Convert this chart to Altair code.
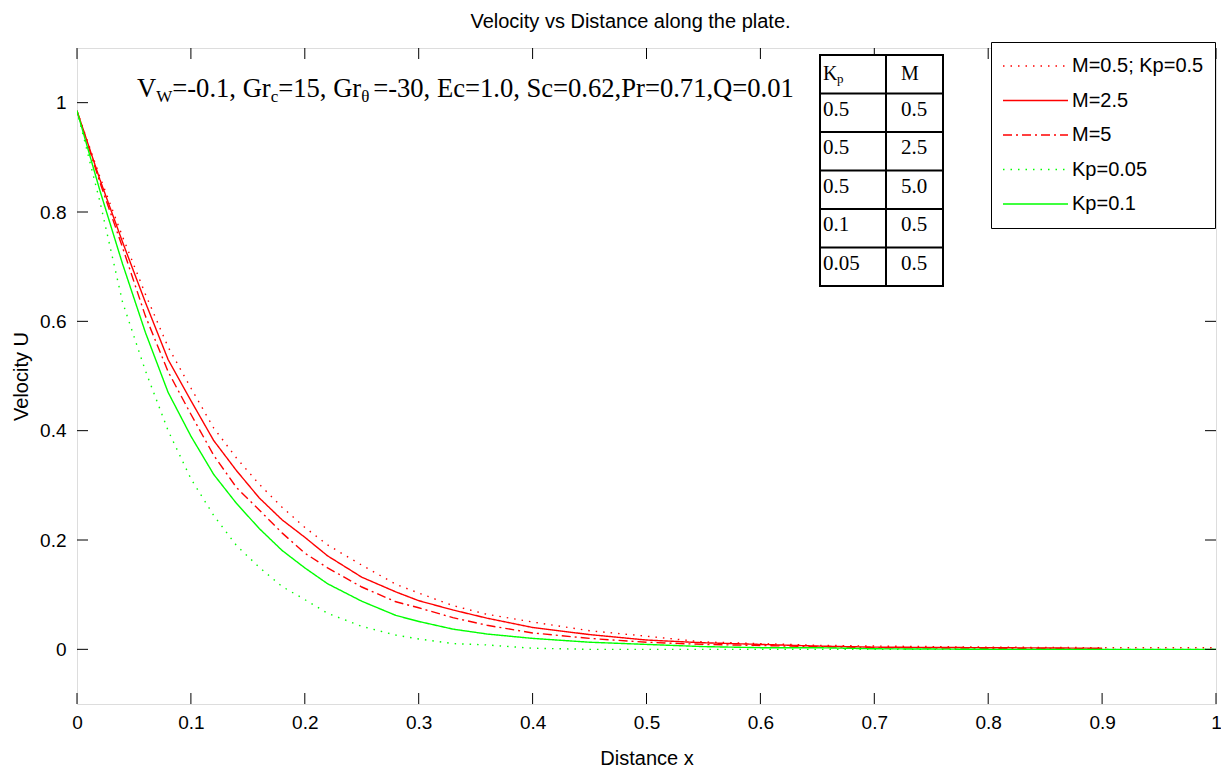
import altair as alt
import pandas as pd

# ---------------- data ----------------
x_vals = [0.00, 0.02, 0.04, 0.06, 0.08, 0.10, 0.12, 0.14, 0.16, 0.18, 0.20, 0.22, 0.25,
          0.28, 0.30, 0.33, 0.36, 0.40, 0.45, 0.50, 0.55, 0.60, 0.65, 0.70, 0.80, 0.90, 1.00]

u_m05 = [0.985, 0.865, 0.755, 0.650, 0.553, 0.478, 0.405, 0.350, 0.302, 0.260, 0.223, 0.191, 0.154,
         0.119, 0.103, 0.080, 0.064, 0.050, 0.034, 0.024, 0.0135, 0.0105, 0.0074, 0.006, 0.004, 0.003, 0.003]
u_m25 = [0.985, 0.860, 0.745, 0.635, 0.530, 0.455, 0.382, 0.327, 0.277, 0.237, 0.205, 0.171, 0.132,
         0.105, 0.089, 0.072, 0.057, 0.040, 0.027, 0.017, 0.012, 0.009, 0.006, 0.004, 0.003, 0.002, None]
u_m5 = [0.985, 0.855, 0.735, 0.610, 0.508, 0.430, 0.355, 0.296, 0.255, 0.213, 0.176, 0.149, 0.114,
        0.087, 0.076, 0.058, 0.044, 0.030, 0.020, 0.013, 0.009, 0.007, 0.005, 0.003, 0.002, 0.001, None]
u_kp005 = [0.985, 0.820, 0.635, 0.510, 0.400, 0.312, 0.245, 0.190, 0.150, 0.115, 0.091, 0.066, 0.042,
           0.026, 0.019, 0.0105, 0.008, 0.002, 0.0, 0.0, 0.0, 0.0, 0.0, 0.0, 0.0, 0.0, 0.0]
u_kp01 = [0.985, 0.840, 0.705, 0.580, 0.470, 0.390, 0.320, 0.267, 0.221, 0.181, 0.149, 0.120, 0.088,
          0.062, 0.051, 0.037, 0.028, 0.020, 0.013, 0.009, 0.005, 0.003, 0.003, 0.001, 0.0, 0.0, 0.0]

series_names = ["M=0.5; Kp=0.5", "M=2.5", "M=5", "Kp=0.05", "Kp=0.1"]
series_values = [u_m05, u_m25, u_m5, u_kp005, u_kp01]
series_colors = ["#ff0000", "#ff0000", "#ff0000", "#00ff00", "#00ff00"]
series_dashes = [[1.5, 6], [1, 0], [9, 4, 2, 4], [1.5, 6], [1, 0]]

x_ticks = [0, 0.1, 0.2, 0.3, 0.4, 0.5, 0.6, 0.7, 0.8, 0.9, 1]
y_ticks = [0, 0.2, 0.4, 0.6, 0.8, 1]

table_header = ["K", "M"]
table_kp = ["0.5", "0.5", "0.5", "0.1", "0.05"]
table_m = ["0.5", "2.5", "5.0", "0.5", "0.5"]

title_text = "Velocity vs Distance along the plate."
x_title = "Distance x"
y_title = "Velocity U"

# annotation pieces: (text, is_subscript)
annot_pieces = [("V", False), ("W", True), ("=-0.1, Gr", False), ("c", True),
                ("=15, Gr", False), ("\u03b8", True),
                (" =-30, Ec=1.0, Sc=0.62,Pr=0.71,Q=0.01", False)]

# ---------------- layout ----------------
W, H = 1139, 656
SANS = "Liberation Sans, Arial, sans-serif"
SERIF = "Liberation Serif, Times New Roman, serif"

rows = []
for name, vals in zip(series_names, series_values):
    for xv, uv in zip(x_vals, vals):
        if uv is not None:
            rows.append({"series": name, "x": xv, "u": uv})
df = pd.DataFrame(rows)

xscale = alt.Scale(domain=[0, 1], nice=False)
yscale = alt.Scale(domain=[-0.1, 1.1], nice=False, zero=False)

x_axis = alt.Axis(values=x_ticks, format="~g", title=x_title, ticks=False,
                  domain=False, grid=False, labelFont=SANS, labelFontSize=19,
                  labelColor="#000", labelPadding=9, titleFont=SANS,
                  titleFontSize=20, titleFontWeight="normal", titleColor="#000",
                  titlePadding=16, labelFlush=False)
y_axis = alt.Axis(values=y_ticks, format="~g", title=y_title, ticks=False,
                  domain=False, grid=False, labelFont=SANS, labelFontSize=19,
                  labelColor="#000", labelPadding=11, titleFont=SANS,
                  titleFontSize=20, titleFontWeight="normal", titleColor="#000",
                  titlePadding=8)

lines = alt.Chart(df).mark_line(strokeWidth=1.4, clip=True).encode(
    x=alt.X("x:Q", scale=xscale, axis=x_axis),
    y=alt.Y("u:Q", scale=yscale, axis=y_axis),
    color=alt.Color("series:N", scale=alt.Scale(domain=series_names, range=series_colors),
                    legend=alt.Legend(title=None, orient="none", legendX=914, legendY=-6,
                                      fillColor="white", strokeColor="#000",
                                      padding=11, symbolType="stroke", symbolSize=4225,
                                      symbolStrokeWidth=1.5, labelFont=SANS,
                                      labelFontSize=20, labelColor="#000",
                                      clipHeight=26, rowPadding=8.5, labelOffset=3,
                                      labelLimit=300)),
    strokeDash=alt.StrokeDash("series:N",
                              scale=alt.Scale(domain=series_names, range=series_dashes),
                              legend=alt.Legend(title=None, orient="none", legendX=914,
                                                legendY=-6)),
    order=alt.Order("x:Q"),
)

tick_len = 11
xt = pd.DataFrame({"x": x_ticks})
yt = pd.DataFrame({"u": y_ticks})
tick_layers = [
    alt.Chart(xt).mark_rule(color="#000", strokeWidth=1).encode(
        x=alt.X("x:Q", scale=xscale, axis=x_axis), y=alt.value(H), y2=alt.value(H - tick_len)),
    alt.Chart(xt).mark_rule(color="#000", strokeWidth=1).encode(
        x=alt.X("x:Q", scale=xscale, axis=x_axis), y=alt.value(0), y2=alt.value(tick_len)),
    alt.Chart(yt).mark_rule(color="#000", strokeWidth=1).encode(
        y=alt.Y("u:Q", scale=yscale, axis=y_axis), x=alt.value(0), x2=alt.value(tick_len)),
    alt.Chart(yt).mark_rule(color="#000", strokeWidth=1).encode(
        y=alt.Y("u:Q", scale=yscale, axis=y_axis), x=alt.value(W), x2=alt.value(W - tick_len)),
]

# ---------- table ----------
one = pd.DataFrame({"a": [0]})
t_left, t_mid, t_right = 743, 809, 866
t_top, row_h = 7, 38.5
n_rows = 1 + len(table_kp)
t_bottom = t_top + n_rows * row_h
table_layers = [
    alt.Chart(one).mark_rect(fill="white", stroke="#000", strokeWidth=2).encode(
        x=alt.value(t_left), x2=alt.value(t_right), y=alt.value(t_top), y2=alt.value(t_bottom)),
    alt.Chart(one).mark_rule(color="#000", strokeWidth=2).encode(
        x=alt.value(t_mid), y=alt.value(t_top), y2=alt.value(t_bottom)),
]
for i in range(1, n_rows):
    yy = t_top + i * row_h
    table_layers.append(alt.Chart(one).mark_rule(color="#000", strokeWidth=2).encode(
        x=alt.value(t_left), x2=alt.value(t_right), y=alt.value(yy)))

def cell_text(txt, x, y, size=21, baseline="middle"):
    return alt.Chart(one).mark_text(text=txt, font=SERIF, fontSize=size, align="left",
                                    baseline=baseline, color="#000").encode(
        x=alt.value(x), y=alt.value(y))

col1_x, col2_x = 746, 824
table_layers.append(cell_text(table_header[0], col1_x, t_top + 25, 20, "alphabetic"))
table_layers.append(cell_text("p", col1_x + 14, t_top + 28, 13, "alphabetic"))
table_layers.append(cell_text(table_header[1], col2_x, t_top + 25, 20, "alphabetic"))
for i, (kp, m) in enumerate(zip(table_kp, table_m)):
    yc = t_top + (i + 1) * row_h + 16
    table_layers.append(cell_text(kp, col1_x, yc))
    table_layers.append(cell_text(m, col2_x, yc))

# ---------- annotation (Times metrics for piece placement) ----------
times_w = {"V": 722, "W": 944, "=": 564, "-": 333, ".": 250, ",": 250, " ": 250, "G": 722,
           "r": 333, "c": 444, "E": 667, "S": 556, "P": 556, "Q": 722, "\u03b8": 700}
def tw(s, size):
    return sum(times_w.get(ch, 500) for ch in s) * size / 1000.0

main_size, sub_size = 26.6, 17
ax_x, ax_base = 60, 49
annot_layers = []
cur = ax_x
for txt, sub in annot_pieces:
    size = sub_size if sub else main_size
    annot_layers.append(alt.Chart(one).mark_text(
        text=txt, font=SERIF, fontSize=size, align="left", baseline="alphabetic",
        color="#000").encode(x=alt.value(cur), y=alt.value(ax_base + (5 if sub else 0))))
    cur += tw(txt, size)

chart = alt.layer(lines, *tick_layers, *table_layers, *annot_layers).properties(
    width=W, height=H,
    title=alt.TitleParams(title_text, font=SANS, fontSize=20, fontWeight="normal",
                          color="#000", offset=10, dx=-16),
    padding={"left": 69, "top": 40, "right": 5, "bottom": 70},
    autosize=alt.AutoSizeParams(type="none"),
).configure_view(stroke="#000", strokeWidth=1.2).configure(background="white")

chart.save("out.html", embed_options={"renderer": "svg", "actions": False})
